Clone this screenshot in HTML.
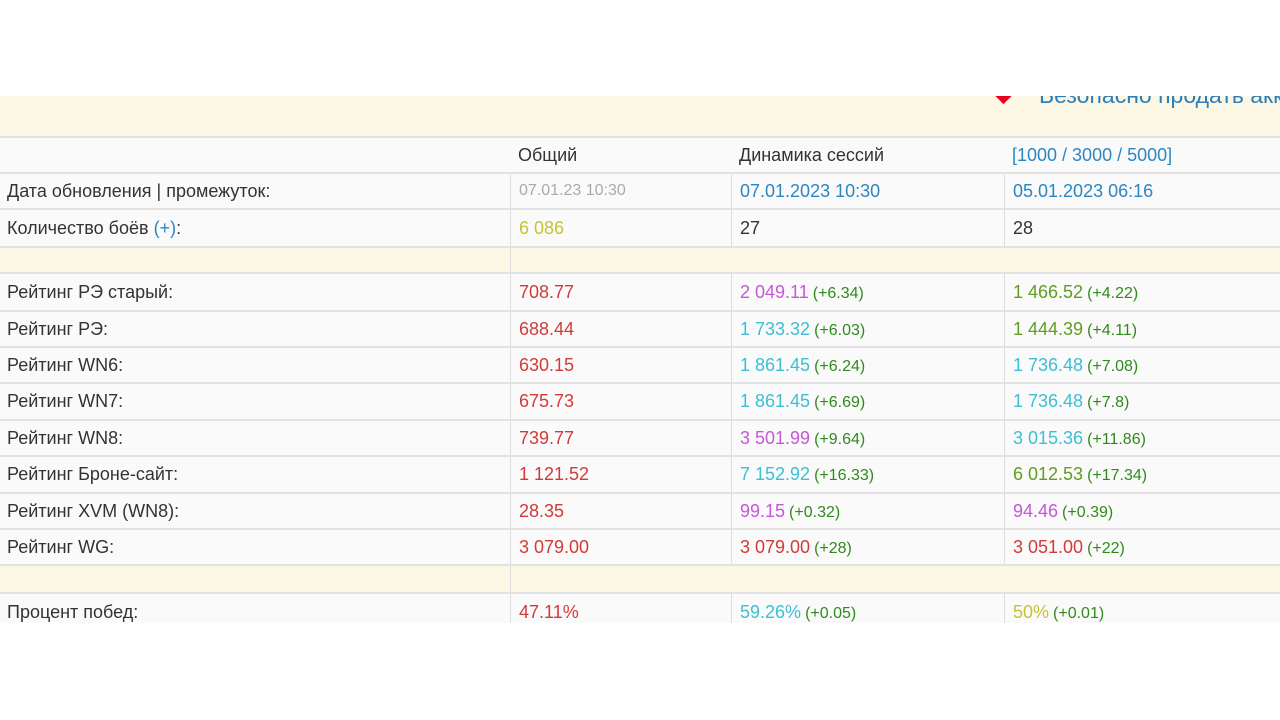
<!DOCTYPE html>
<html><head><meta charset="utf-8"><style>
body{margin:0;width:1280px;height:720px;background:#fff;overflow:hidden;font-family:"Liberation Sans",sans-serif;position:relative}
.band{position:absolute;left:0;top:96px;width:1280px;height:40px;background:#fcf6e4}
.r{position:absolute;left:0;width:1280px;background:#fafafa;border-top:2px solid #e2e2e2;box-sizing:border-box}
.r.y{background:#fcf6e4}
.c{position:absolute;top:0;height:100%;display:flex;align-items:center;font-size:18px;color:#333;white-space:nowrap;box-sizing:border-box}
.c0{left:7px}
.c1{left:510px;padding-left:8px;border-left:1px solid #ddd}
.c2{left:731px;padding-left:8px;border-left:1px solid #ddd}
.c3{left:1004px;padding-left:8px;border-left:1px solid #ddd}
.red{color:#d33a3a}.pur{color:#c458d8}.cy{color:#3dbfd3}.gr{color:#5f9e22}.yl{color:#c8c234}.bl{color:#2c86c2}
.d{color:#2f8a1c;font-size:16px;margin-left:4px}
</style></head><body>
<div class="band"></div>
<div style="position:absolute;left:996px;top:86px;width:15px;height:15px;background:#e8001c;transform:rotate(45deg)"></div>
<div style="position:absolute;left:1039px;top:82px;font-size:23px;color:#2c7fb8;white-space:nowrap">Безопасно продать аккаунт</div>
<div style="position:absolute;left:0;top:0;width:1280px;height:96px;background:#fff"></div>

<div class="r" style="top:136px;height:36px"><div class="c c0"></div><div class="c" style="left:518px">Общий</div><div class="c" style="left:739px">Динамика сессий</div><div class="c bl" style="left:1012px">[1000 / 3000 / 5000]</div></div>
<div class="r" style="top:172px;height:36px"><div class="c c0">Дата обновления | промежуток:</div><div class="c c1" style="color:#aaa;font-size:16px">07.01.23 10:30</div><div class="c c2 bl">07.01.2023 10:30</div><div class="c c3 bl">05.01.2023 06:16</div></div>
<div class="r" style="top:208px;height:38px"><div class="c c0"><span>Количество боёв <span class="bl">(+)</span>:</span></div><div class="c c1 yl">6 086</div><div class="c c2">27</div><div class="c c3">28</div></div>
<div class="r y" style="top:246px;height:26px"><div class="c c1"></div></div>
<div class="r" style="top:272px;height:38px"><div class="c c0">Рейтинг РЭ старый:</div><div class="c c1 red">708.77</div><div class="c c2"><span><span class="pur">2 049.11</span><span class="d">(+6.34)</span></span></div><div class="c c3"><span><span class="gr">1 466.52</span><span class="d">(+4.22)</span></span></div></div>
<div class="r" style="top:310px;height:36px"><div class="c c0">Рейтинг РЭ:</div><div class="c c1 red">688.44</div><div class="c c2"><span><span class="cy">1 733.32</span><span class="d">(+6.03)</span></span></div><div class="c c3"><span><span class="gr">1 444.39</span><span class="d">(+4.11)</span></span></div></div>
<div class="r" style="top:346px;height:36px"><div class="c c0">Рейтинг WN6:</div><div class="c c1 red">630.15</div><div class="c c2"><span><span class="cy">1 861.45</span><span class="d">(+6.24)</span></span></div><div class="c c3"><span><span class="cy">1 736.48</span><span class="d">(+7.08)</span></span></div></div>
<div class="r" style="top:382px;height:37px"><div class="c c0">Рейтинг WN7:</div><div class="c c1 red">675.73</div><div class="c c2"><span><span class="cy">1 861.45</span><span class="d">(+6.69)</span></span></div><div class="c c3"><span><span class="cy">1 736.48</span><span class="d">(+7.8)</span></span></div></div>
<div class="r" style="top:419px;height:36px"><div class="c c0">Рейтинг WN8:</div><div class="c c1 red">739.77</div><div class="c c2"><span><span class="pur">3 501.99</span><span class="d">(+9.64)</span></span></div><div class="c c3"><span><span class="cy">3 015.36</span><span class="d">(+11.86)</span></span></div></div>
<div class="r" style="top:455px;height:37px"><div class="c c0">Рейтинг Броне-сайт:</div><div class="c c1 red">1 121.52</div><div class="c c2"><span><span class="cy">7 152.92</span><span class="d">(+16.33)</span></span></div><div class="c c3"><span><span class="gr">6 012.53</span><span class="d">(+17.34)</span></span></div></div>
<div class="r" style="top:492px;height:36px"><div class="c c0">Рейтинг XVM (WN8):</div><div class="c c1 red">28.35</div><div class="c c2"><span><span class="pur">99.15</span><span class="d">(+0.32)</span></span></div><div class="c c3"><span><span class="pur">94.46</span><span class="d">(+0.39)</span></span></div></div>
<div class="r" style="top:528px;height:36px"><div class="c c0">Рейтинг WG:</div><div class="c c1 red">3 079.00</div><div class="c c2"><span><span class="red">3 079.00</span><span class="d">(+28)</span></span></div><div class="c c3"><span><span class="red">3 051.00</span><span class="d">(+22)</span></span></div></div>
<div class="r y" style="top:564px;height:28px"><div class="c c1"></div></div>
<div class="r" style="top:592px;height:31px"><div class="c c0" style="height:36px">Процент побед:</div><div class="c c1 red" style="height:36px">47.11%</div><div class="c c2" style="height:36px"><span><span class="cy">59.26%</span><span class="d">(+0.05)</span></span></div><div class="c c3" style="height:36px"><span><span class="yl">50%</span><span class="d">(+0.01)</span></span></div></div>
<div style="position:absolute;left:0;top:623px;width:1280px;height:97px;background:#fff"></div>
</body></html>
